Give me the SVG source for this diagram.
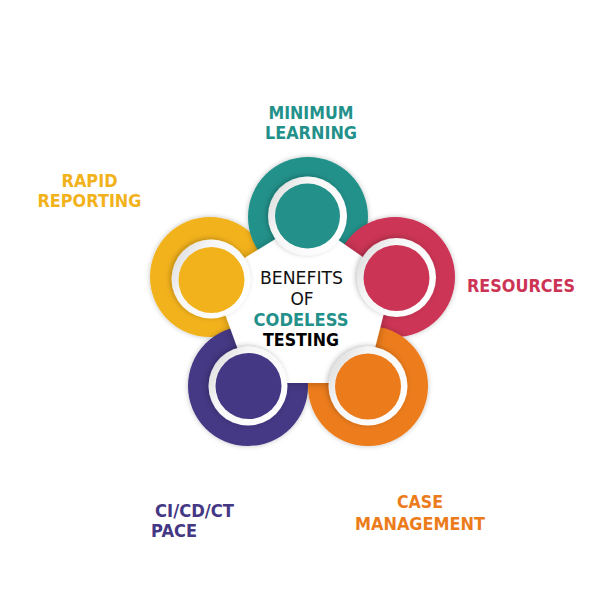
<svg xmlns="http://www.w3.org/2000/svg" width="600" height="600" viewBox="0 0 600 600">
  <style>
    .lbl { font-family: "DejaVu Sans", "Liberation Sans", sans-serif; font-weight: bold; font-size: 17px; text-anchor: middle; }
    .ctr { font-family: "DejaVu Sans", "Liberation Sans", sans-serif; font-size: 17px; text-anchor: middle; }
    .ctrb { font-family: "DejaVu Sans", "Liberation Sans", sans-serif; font-weight: bold; font-size: 17px; text-anchor: middle; }
    .teal { fill: #23918a; }
    .yellow { fill: #f2b21b; }
    .red { fill: #cc3455; }
    .orange { fill: #ec7c1b; }
    .purple { fill: #443784; }
    .wring { fill: url(#wgrad); filter: url(#wshadow); }
    .outer { filter: url(#oshadow); }
  </style>
  <defs>
    <linearGradient id="wgrad" x1="0" y1="0.2" x2="1" y2="0.8">
      <stop offset="0" stop-color="#dcdcdc"/>
      <stop offset="0.3" stop-color="#f6f6f6"/>
      <stop offset="1" stop-color="#ffffff"/>
    </linearGradient>
    <filter id="wshadow" x="-30%" y="-30%" width="160%" height="160%">
      <feDropShadow dx="-1.5" dy="-1" stdDeviation="2.5" flood-color="#000" flood-opacity="0.25"/>
    </filter>
    <filter id="oshadow" x="-20%" y="-20%" width="140%" height="140%">
      <feDropShadow dx="0" dy="0" stdDeviation="2.5" flood-color="#000" flood-opacity="0.25"/>
    </filter>
    <filter id="pshadow" x="-20%" y="-20%" width="140%" height="140%">
      <feDropShadow dx="0" dy="0" stdDeviation="4" flood-color="#000" flood-opacity="0.28"/>
    </filter>
  </defs>
  <rect width="600" height="600" fill="#ffffff"/>

  <g id="outer-rings">
    <circle class="yellow outer" cx="210" cy="277" r="60"/>
    <circle class="teal outer" cx="308" cy="217" r="60"/>
    <circle class="red outer" cx="395" cy="277" r="60"/>
    <circle class="purple outer" cx="248" cy="386" r="60"/>
    <circle class="orange outer" cx="368" cy="386" r="60"/>
  </g>

  <g id="center">
    <polygon points="308,219 393,278 366,383 250,383 212,278" fill="#ffffff" filter="url(#pshadow)"/>
    <text class="ctr" x="301.5" y="284" textLength="83" lengthAdjust="spacingAndGlyphs" fill="#111">BENEFITS</text>
    <text class="ctr" x="302" y="305" fill="#111">OF</text>
    <text class="ctrb teal" x="301" y="326" textLength="95" lengthAdjust="spacingAndGlyphs">CODELESS</text>
    <text class="ctrb" x="301" y="346" textLength="76" lengthAdjust="spacingAndGlyphs" fill="#000">TESTING</text>
  </g>

  <g id="node-minimum-learning">
    <circle class="wring" cx="307.5" cy="216" r="39.5"/>
    <circle class="teal" cx="307.5" cy="216" r="32.5"/>
    <text class="lbl teal" x="311" y="119" textLength="85" lengthAdjust="spacingAndGlyphs">MINIMUM</text>
    <text class="lbl teal" x="311" y="139" textLength="92" lengthAdjust="spacingAndGlyphs">LEARNING</text>
  </g>

  <g id="node-resources">
    <circle class="wring" cx="396.5" cy="277.5" r="39.5"/>
    <circle class="red" cx="396.5" cy="278" r="33"/>
    <text class="lbl red" x="521" y="292" textLength="108" lengthAdjust="spacingAndGlyphs">RESOURCES</text>
  </g>

  <g id="node-case-management">
    <circle class="wring" cx="368" cy="386" r="39.5"/>
    <circle class="orange" cx="368" cy="386.5" r="33"/>
    <text class="lbl orange" x="420" y="508" textLength="46" lengthAdjust="spacingAndGlyphs">CASE</text>
    <text class="lbl orange" x="420" y="530" textLength="130" lengthAdjust="spacingAndGlyphs">MANAGEMENT</text>
  </g>

  <g id="node-cicdct-pace">
    <circle class="wring" cx="248" cy="386" r="39.5"/>
    <circle class="purple" cx="248.5" cy="386" r="33"/>
    <text class="lbl purple" x="155" y="517" style="text-anchor:start" textLength="79" lengthAdjust="spacingAndGlyphs">CI/CD/CT</text>
    <text class="lbl purple" x="151" y="537" style="text-anchor:start" textLength="46" lengthAdjust="spacingAndGlyphs">PACE</text>
  </g>

  <g id="node-rapid-reporting">
    <circle class="wring" cx="211" cy="279" r="39.5"/>
    <circle class="yellow" cx="211.5" cy="280" r="33"/>
    <text class="lbl yellow" x="89.5" y="187" textLength="56" lengthAdjust="spacingAndGlyphs">RAPID</text>
    <text class="lbl yellow" x="89.5" y="207" textLength="104" lengthAdjust="spacingAndGlyphs">REPORTING</text>
  </g>

  <g id="connectors"></g>
</svg>
